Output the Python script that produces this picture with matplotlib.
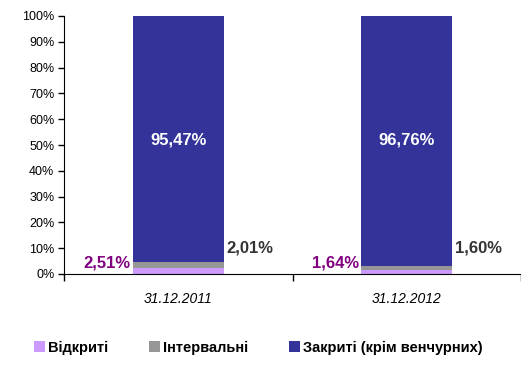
import matplotlib.pyplot as plt
import numpy as np

dates = ['31.12.2011', '31.12.2012']
open_funds = [2.51, 1.64]
interval_funds = [2.01, 1.60]
closed_funds = [95.47, 96.76]
series_names = ['Відкриті', 'Інтервальні', 'Закриті (крім венчурних)']
colors = ['#CC99FF', '#969696', '#333399']


def fmt(v):
    return ('%.2f%%' % v).replace('.', ',')


def main():
    plt.rcParams['font.family'] = ['Liberation Sans', 'DejaVu Sans']
    fig = plt.figure(figsize=(5.21, 3.79), dpi=100)
    ax = fig.add_axes([64 / 521, 1 - 274 / 379, 1 - 64 / 521, 258 / 379])

    x = np.arange(len(dates))
    w = 0.4
    bottom = np.zeros(len(dates))
    for vals, name, c in zip([open_funds, interval_funds, closed_funds], series_names, colors):
        ax.bar(x, vals, w, bottom=bottom, color=c, label=name)
        bottom = bottom + np.array(vals)

    for i in range(len(dates)):
        ax.text(x[i] - w / 2 - 0.01, 4.4, fmt(open_funds[i]), color='#800080',
                fontsize=12, fontweight='bold', ha='right', va='center')
        ax.text(x[i] + w / 2 + 0.01, 10.2, fmt(interval_funds[i]), color='#333333',
                fontsize=12, fontweight='bold', ha='left', va='center')
        ax.text(x[i], 51.8, fmt(closed_funds[i]), color='white',
                fontsize=12, fontweight='bold', ha='center', va='center')

    ax.set_ylim(0, 100)
    ax.set_xlim(-0.5, 1.466)
    ax.set_yticks(np.arange(0, 101, 10))
    ax.set_yticklabels(['%d%%' % v for v in range(0, 101, 10)], fontsize=9)
    ax.set_xticks([-0.5, 0.5, 1.5])
    ax.set_xticklabels([])
    ax.set_xticks(x, minor=True)
    ax.set_xticklabels(dates, minor=True, fontsize=10, style='italic')
    ax.tick_params(axis='x', which='minor', length=0, pad=13)
    ax.tick_params(axis='x', which='major', length=5, width=1)
    ax.tick_params(axis='y', length=4, width=1, pad=3)
    ax.spines['top'].set_visible(False)
    ax.spines['right'].set_visible(False)

    fig.legend(loc='center left', bbox_to_anchor=(0.041, 1 - 347.5 / 379), ncol=3,
               frameon=False, handlelength=0.75, handleheight=0.7, handletextpad=0.2,
               columnspacing=2.8, prop={'weight': 'bold', 'size': 10.5})

    fig.savefig('out.png', dpi=100)


main()
